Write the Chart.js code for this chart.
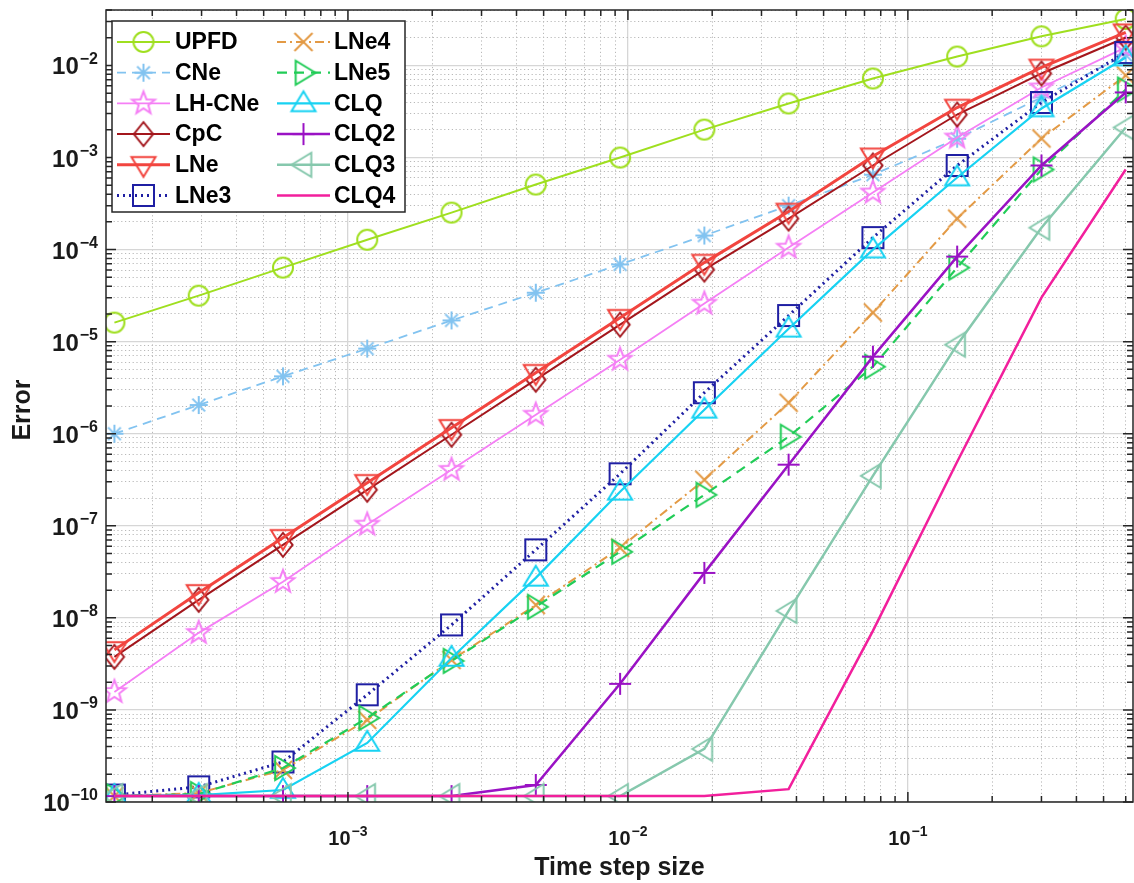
<!DOCTYPE html>
<html>
<head>
<meta charset="utf-8">
<script src="https://cdn.jsdelivr.net/npm/chart.js@4.4.1/dist/chart.umd.min.js"></script>
<style>
  html, body { margin: 0; padding: 0; background: #fff; }
  #wrap { width: 1134px; height: 883px; }
</style>
</head>
<body>
<div id="wrap"><canvas id="errChart" width="1134" height="883"></canvas></div>
<script>
// ---------------------------------------------
// Data: error versus time step size
// ---------------------------------------------

const stepSizes = [1.465e-4, 2.93e-4, 5.86e-4, 1.172e-3, 2.344e-3, 4.688e-3,
    9.375e-3, 1.875e-2, 3.75e-2, 7.5e-2, 0.15, 0.3, 0.6];

const upfd  = [1.61e-5, 3.16e-5, 6.37e-5, 1.28e-4, 2.52e-4, 5.09e-4, 1.0e-3,
    2.01e-3, 3.86e-3, 7.22e-3, 1.25e-2, 2.07e-2, 3.2e-2];
const cne   = [1.0e-6, 2.05e-6, 4.2e-6, 8.4e-6, 1.7e-5, 3.4e-5, 6.9e-5,
    1.42e-4, 3.0e-4, 6.5e-4, 1.6e-3, 4.5e-3, 1.3e-2];
const lhCne = [1.57e-9, 6.87e-9, 2.46e-8, 1.03e-7, 4.06e-7, 1.61e-6, 6.37e-6,
    2.59e-5, 1.05e-4, 4.17e-4, 1.65e-3, 5.77e-3, 1.57e-2];
const cpc   = [3.77e-9, 1.57e-8, 6.21e-8, 2.46e-7, 9.75e-7, 3.86e-6, 1.53e-5,
    6.06e-5, 2.17e-4, 8.19e-4, 2.93e-3, 8.18e-3, 2.01e-2];
const lne   = [4.49e-9, 1.87e-8, 7.41e-8, 2.93e-7, 1.16e-6, 4.6e-6, 1.82e-5,
    7.22e-5, 2.59e-4, 1.03e-3, 3.49e-3, 9.51e-3, 2.29e-2];
const lne3  = [1.19e-10, 1.46e-10, 2.72e-10, 1.46e-9, 8.39e-9, 5.48e-8, 3.67e-7,
    2.79e-6, 1.92e-5, 1.35e-4, 8.19e-4, 3.96e-3, 1.38e-2];
const lne4  = [1.16e-10, 1.25e-10, 2.23e-10, 7.79e-10, 3.49e-9, 1.38e-8, 5.77e-8,
    3.16e-7, 2.17e-6, 2.07e-5, 2.17e-4, 1.61e-3, 7.79e-3];
const lne5  = [1.16e-10, 1.22e-10, 2.34e-10, 8.19e-10, 3.41e-9, 1.32e-8, 5.22e-8,
    2.17e-7, 9.27e-7, 5.35e-6, 6.37e-5, 7.41e-4, 5.48e-3];
const clq   = [1.16e-10, 1.19e-10, 1.35e-10, 4.38e-10, 3.67e-9, 2.72e-8, 2.34e-7,
    1.82e-6, 1.38e-5, 1.0e-4, 6.06e-4, 3.41e-3, 1.22e-2];
const clq2  = [1.16e-10, 1.16e-10, 1.16e-10, 1.16e-10, 1.16e-10, 1.53e-10, 1.92e-9,
    3.08e-8, 4.61e-7, 6.87e-6, 8.39e-5, 8.19e-4, 5.09e-3];
const clq3  = [1.16e-10, 1.16e-10, 1.16e-10, 1.16e-10, 1.16e-10, 1.16e-10, 1.16e-10,
    3.77e-10, 1.19e-8, 3.49e-7, 9.27e-6, 1.73e-4, 2.12e-3];
const clq4  = [1.16e-10, 1.16e-10, 1.16e-10, 1.16e-10, 1.16e-10, 1.16e-10, 1.16e-10,
    1.16e-10, 1.38e-10, 7.22e-9, 4.96e-7, 3.01e-5, 7.41e-4];

const seriesNames = ["UPFD", "CNe", "LH-CNe", "CpC", "LNe", "LNe3",
    "LNe4", "LNe5", "CLQ", "CLQ2", "CLQ3", "CLQ4"];

const xTickPowers = [-3, -2, -1];
const yTickPowers = [-10, -9, -8, -7, -6, -5, -4, -3, -2];

// ---------------------------------------------
// Marker images (MATLAB style, hollow)
// ---------------------------------------------

function makeMarker(shape, color, size, width) {

    const pad = Math.ceil(width) + 2;
    const c = document.createElement("canvas");
    c.width = c.height = size + pad * 2;
    const g = c.getContext("2d");
    const m = c.width / 2;
    const r = size / 2;

    g.strokeStyle = color;
    g.lineWidth = width;
    g.lineJoin = "miter";
    g.beginPath();

    switch (shape) {
        case "circle":
            g.arc(m, m, r, 0, Math.PI * 2);
            break;
        case "square":
            g.rect(m - r, m - r, size, size);
            break;
        case "diamond":
            g.moveTo(m, m - r); g.lineTo(m + r * 0.8, m);
            g.lineTo(m, m + r); g.lineTo(m - r * 0.8, m); g.closePath();
            break;
        case "up":
            g.moveTo(m, m - r); g.lineTo(m + r, m + r * 0.65);
            g.lineTo(m - r, m + r * 0.65); g.closePath();
            break;
        case "down":
            g.moveTo(m, m + r); g.lineTo(m + r, m - r * 0.65);
            g.lineTo(m - r, m - r * 0.65); g.closePath();
            break;
        case "left":
            g.moveTo(m - r, m); g.lineTo(m + r * 0.65, m - r);
            g.lineTo(m + r * 0.65, m + r); g.closePath();
            break;
        case "right":
            g.moveTo(m + r, m); g.lineTo(m - r * 0.65, m - r);
            g.lineTo(m - r * 0.65, m + r); g.closePath();
            break;
        case "star5":
            for (let k = 0; k < 10; k++) {
                const a = -Math.PI / 2 + k * Math.PI / 5;
                const rr = k % 2 === 0 ? r : r * 0.42;
                const px = m + rr * Math.cos(a);
                const py = m + rr * Math.sin(a);
                if (k === 0) g.moveTo(px, py); else g.lineTo(px, py);
            }
            g.closePath();
            break;
        case "asterisk":
            for (let k = 0; k < 4; k++) {
                const a = k * Math.PI / 4;
                g.moveTo(m - r * Math.cos(a), m - r * Math.sin(a));
                g.lineTo(m + r * Math.cos(a), m + r * Math.sin(a));
            }
            break;
        case "plus":
            g.moveTo(m - r, m); g.lineTo(m + r, m);
            g.moveTo(m, m - r); g.lineTo(m, m + r);
            break;
        case "cross":
            g.moveTo(m - r * 0.75, m - r * 0.75); g.lineTo(m + r * 0.75, m + r * 0.75);
            g.moveTo(m + r * 0.75, m - r * 0.75); g.lineTo(m - r * 0.75, m + r * 0.75);
            break;
    }

    g.stroke();
    return c;

}

// ---------------------------------------------
// Series styles
// ---------------------------------------------

const styles = [
    { color: "#9fdf1f", width: 2,   dash: [],            marker: "circle",   size: 20 },
    { color: "#82c3f0", width: 1.8, dash: [9, 6],        marker: "asterisk", size: 18 },
    { color: "#f57ff5", width: 1.8, dash: [],            marker: "star5",    size: 24 },
    { color: "#a3161c", width: 2,   dash: [],            marker: "diamond",  size: 24 },
    { color: "#f2453f", width: 3,   dash: [],            marker: "down",     size: 24 },
    { color: "#1f1fa3", width: 3,   dash: [2, 4],        marker: "square",   size: 21 },
    { color: "#e39a45", width: 2,   dash: [9, 4, 2, 4],  marker: "cross",    size: 24 },
    { color: "#21cc57", width: 2.2, dash: [10, 7],       marker: "right",    size: 24 },
    { color: "#17d2f2", width: 2.2, dash: [],            marker: "up",       size: 24 },
    { color: "#9a12c4", width: 2.5, dash: [],            marker: "plus",     size: 22 },
    { color: "#86c8ad", width: 2.5, dash: [],            marker: "left",     size: 24 },
    { color: "#f21f9c", width: 2.5, dash: [],            marker: null,       size: 0 }
];

const seriesValues = [upfd, cne, lhCne, cpc, lne, lne3, lne4, lne5, clq, clq2, clq3, clq4];

const markers = styles.map(s =>
    s.marker ? makeMarker(s.marker, s.color, s.size, 2) : null);

const datasets = seriesNames.map((name, i) => ({

    label: name,

    data: stepSizes.map((x, k) => ({ x: x, y: seriesValues[i][k] })),

    borderColor: styles[i].color,
    backgroundColor: styles[i].color,
    borderWidth: styles[i].width,
    borderDash: styles[i].dash,
    pointStyle: markers[i] || "circle",
    pointRadius: markers[i] ? 10 : 0,
    pointHoverRadius: markers[i] ? 10 : 0,
    tension: 0,
    fill: false,
    // later series are painted on top
    order: seriesNames.length - i

}));

// ---------------------------------------------
// Log axis helpers
// ---------------------------------------------

function logTicks(scale) {
    const ticks = [];
    const lo = Math.floor(Math.log10(scale.min));
    const hi = Math.ceil(Math.log10(scale.max));
    for (let e = lo; e <= hi; e++) {
        for (let s = 1; s <= 9; s++) {
            const v = s * Math.pow(10, e);
            if (v >= scale.min * 0.9999 && v <= scale.max * 1.0001) {
                ticks.push({ value: v, major: s === 1 });
            }
        }
    }
    scale.ticks = ticks;
}

const gridColor = ctx => (ctx.tick && ctx.tick.major) ? "#d6d6d6" : "#b9b9b9";
const gridWidth = ctx => (ctx.tick && ctx.tick.major) ? 1.3 : 1;
const gridDash  = ctx => (ctx.tick && !ctx.tick.major) ? [1.2, 2.6] : [];

// ---------------------------------------------
// Frame, inner ticks, labels and legend
// ---------------------------------------------

const FONT = "'Liberation Sans', Arial, sans-serif";

function drawPow(g, base, exp, x, y, align, baseSize, expSize) {
    g.font = "bold " + baseSize + "px " + FONT;
    const wb = g.measureText(base).width;
    g.font = "bold " + expSize + "px " + FONT;
    const we = g.measureText(exp).width;
    const total = wb + we + 1;
    let left = align === "right" ? x - total : x - total / 2;
    g.textBaseline = "alphabetic";
    g.textAlign = "left";
    g.font = "bold " + baseSize + "px " + FONT;
    g.fillText(base, left, y);
    g.font = "bold " + expSize + "px " + FONT;
    g.fillText(exp, left + wb + 1, y - baseSize * 0.45);
}

const framePlugin = {

    id: "matlabFrame",

    afterDraw(chart) {

        const g = chart.ctx;
        const a = chart.chartArea;
        const xs = chart.scales.x;
        const ys = chart.scales.y;

        g.save();

        // box
        g.strokeStyle = "#262626";
        g.lineWidth = 1.5;
        g.strokeRect(a.left, a.top, a.right - a.left, a.bottom - a.top);

        // inner tick marks on all four sides
        g.beginPath();
        xs.ticks.forEach(t => {
            const px = xs.getPixelForValue(t.value);
            const len = t.major ? 10 : 6;
            g.moveTo(px, a.bottom); g.lineTo(px, a.bottom - len);
            g.moveTo(px, a.top); g.lineTo(px, a.top + len);
        });
        ys.ticks.forEach(t => {
            const py = ys.getPixelForValue(t.value);
            const len = t.major ? 10 : 6;
            g.moveTo(a.left, py); g.lineTo(a.left + len, py);
            g.moveTo(a.right, py); g.lineTo(a.right - len, py);
        });
        g.stroke();

        // tick labels
        g.fillStyle = "#1a1a1a";
        yTickPowers.forEach(p => {
            const py = ys.getPixelForValue(Math.pow(10, p));
            drawPow(g, "10", String(p).replace("-", "\u2212"), a.left - 8, py + 9, "right", 24, 16);
        });
        xTickPowers.forEach(p => {
            const px = xs.getPixelForValue(Math.pow(10, p));
            drawPow(g, "10", String(p).replace("-", "\u2212"), px, a.bottom + 43, "center", 20, 14);
        });

        // axis titles
        g.font = "bold 25px " + FONT;
        g.textAlign = "center";
        g.textBaseline = "middle";
        g.fillText("Time step size", (a.left + a.right) / 2, 868);

        g.save();
        g.translate(23, (a.top + a.bottom) / 2 + 4);
        g.rotate(-Math.PI / 2);
        g.fillText("Error", 0, 0);
        g.restore();

        // legend
        const box = { x: 112, y: 21, w: 293, h: 191 };
        g.fillStyle = "#ffffff";
        g.fillRect(box.x, box.y, box.w, box.h);
        g.strokeStyle = "#262626";
        g.lineWidth = 1.5;
        g.strokeRect(box.x, box.y, box.w, box.h);

        const cols = [{ l0: 117, l1: 170, tx: 175 }, { l0: 277, l1: 330, tx: 334 }];

        chart.data.datasets.forEach((ds, i) => {
            const col = cols[i < 6 ? 0 : 1];
            const cy = 42 + (i % 6) * 30.7;
            g.save();
            g.strokeStyle = ds.borderColor;
            g.lineWidth = ds.borderWidth;
            g.setLineDash(ds.borderDash);
            g.beginPath();
            g.moveTo(col.l0, cy);
            g.lineTo(col.l1, cy);
            g.stroke();
            g.restore();
            if (markers[i]) {
                const mk = markers[i];
                g.drawImage(mk, (col.l0 + col.l1) / 2 - mk.width / 2, cy - mk.height / 2);
            }
            g.fillStyle = "#000000";
            g.font = "bold 23px " + FONT;
            g.textAlign = "left";
            g.textBaseline = "middle";
            g.fillText(ds.label, col.tx, cy + 1);
        });

        g.restore();

    }

};

// ---------------------------------------------
// Chart
// ---------------------------------------------

new Chart(document.getElementById("errChart"), {

    type: "line",

    data: { datasets: datasets },

    options: {

        responsive: false,
        animation: false,
        events: [],

        layout: {
            autoPadding: false,
            padding: { top: 10, right: 1, left: 0, bottom: 0 }
        },

        plugins: {
            legend: { display: false },
            tooltip: { enabled: false }
        },

        scales: {

            x: {
                type: "logarithmic",
                min: 1.367e-4,
                max: 0.637,
                afterBuildTicks: logTicks,
                afterFit: s => { s.height = 81; },
                ticks: { display: false },
                grid: { color: gridColor, lineWidth: gridWidth, drawTicks: false },
                border: { display: false, dash: gridDash }
            },

            y: {
                type: "logarithmic",
                min: 1e-10,
                max: 0.04,
                afterBuildTicks: logTicks,
                afterFit: s => { s.width = 106; },
                ticks: { display: false },
                grid: { color: gridColor, lineWidth: gridWidth, drawTicks: false },
                border: { display: false, dash: gridDash }
            }

        }

    },

    plugins: [framePlugin]

});
</script>
</body>
</html>
